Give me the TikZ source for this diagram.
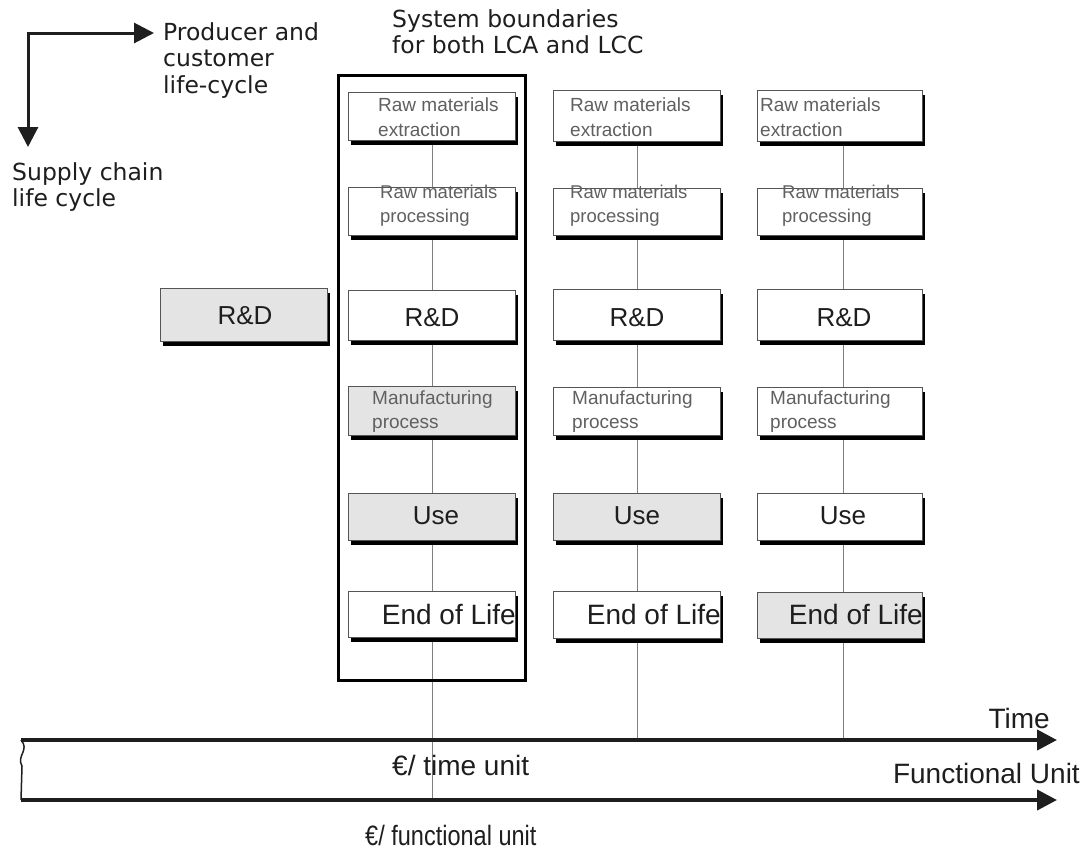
\documentclass[tikz,border=0pt]{standalone}
\usepackage{fontspec}
\setmainfont{Liberation Sans}
\newfontfamily\verd{DejaVu Sans}
\newfontfamily\narrowfont[FakeStretch=0.84]{Liberation Sans}
\usetikzlibrary{arrows.meta}
\definecolor{boxgray}{HTML}{E4E4E4}
\definecolor{smalltxt}{HTML}{606060}
\definecolor{bigtxt}{HTML}{1E1E1E}
\definecolor{edge}{HTML}{555555}
\tikzset{
  lcb/.style={draw=edge, line width=1pt, inner sep=0pt, outer sep=0pt},
  smalllab/.style={anchor=west, inner sep=0pt, align=left, text=smalltxt, font=\fontsize{19}{25}\selectfont},
  proclab/.style={smalllab, font=\fontsize{18.5}{24}\selectfont},
  manlab/.style={smalllab, font=\fontsize{19}{24}\selectfont},
  biglab/.style={inner sep=0pt, text=bigtxt, font=\fontsize{26}{30}\selectfont},
  eollab/.style={biglab, anchor=east, font=\fontsize{28}{30}\selectfont},
  verdlab/.style={anchor=north west, inner sep=0pt, align=left, text=bigtxt, font=\verd\fontsize{23.5}{26.5}\selectfont},
  axislab/.style={inner sep=0pt, text=bigtxt, font=\fontsize{28}{30}\selectfont},
  colline/.style={draw=gray, line width=0.9pt},
  bigarrow/.style={line width=4pt, -{Triangle[length=20pt,width=20pt]}},
  toparrow/.style={line width=3pt, draw=bigtxt, -{Triangle[length=20pt,width=20pt]}}
}
\newcommand\lcbox[6]{%
  \fill[black] (#2+3,#3+5) rectangle (#4+3,#5+5);
  \node[lcb, fill=#6, minimum width={(#4-#2)*1pt}, minimum height={(#5-#3)*1pt}] (#1) at ({(#2+#4)/2},{(#3+#5)/2}) {};
}
\begin{document}
\begin{tikzpicture}[x=1pt,y=-1pt]
\useasboundingbox (0,0) rectangle (1085,852);
\fill[white] (0,0) rectangle (1085,852);

% top-left orientation arrows
\coordinate (corner) at (28,33);
\node[verdlab] (prod) at (163,22) {Producer and\\customer\\life-cycle};
\node[verdlab] (supply) at (12,162) {Supply chain\\life cycle};
\draw[toparrow] ([xshift=-1.5pt]corner) -- ([xshift=-9pt]corner -| prod.west);
\draw[toparrow] (corner) -- ([yshift=15pt]corner |- supply.north);

% system boundary label
\node[verdlab] (sysl) at (392,9) {System boundaries\\for both LCA and LCC};

% column lines
\coordinate (c1top) at (432,116);
\coordinate (c2top) at (637,116);
\coordinate (c3top) at (843,116);
\coordinate (c1bot) at (432,800);
\coordinate (c2bot) at (637,740);
\coordinate (c3bot) at (843,740);
\draw[colline] (c1top) -- (c1bot);
\draw[colline] (c2top) -- (c2bot);
\draw[colline] (c3top) -- (c3bot);

% boundary box
\node[draw=black, line width=3pt, minimum width=187pt, minimum height=605pt, inner sep=0pt] (bound) at (431.5,377.5) {};

% left R&D
\lcbox{rdl}{160}{288}{327}{341}{boxgray}
\node[biglab] (rdlT) at (245,316) {R\&D};

% column 1
\lcbox{a1}{348}{92}{515}{140}{white}
\lcbox{b1}{348}{187}{515}{235}{white}
\lcbox{r1}{348}{290}{515}{340}{white}
\lcbox{m1}{348}{386}{515}{435}{boxgray}
\lcbox{u1}{348}{493}{515}{540}{boxgray}
\lcbox{e1}{348}{591}{515}{637}{white}
% column 2
\lcbox{a2}{553}{90}{720}{141}{white}
\lcbox{b2}{553}{188}{720}{235}{white}
\lcbox{r2}{553}{289}{720}{340}{white}
\lcbox{m2}{553}{387}{720}{435}{white}
\lcbox{u2}{553}{493}{720}{540}{boxgray}
\lcbox{e2}{553}{591}{720}{638}{white}
% column 3
\lcbox{a3}{757}{90}{922}{141}{white}
\lcbox{b3}{757}{188}{922}{235}{white}
\lcbox{r3}{757}{289}{922}{340}{white}
\lcbox{m3}{757}{387}{922}{435}{white}
\lcbox{u3}{757}{493}{922}{540}{white}
\lcbox{e3}{757}{592}{922}{638}{boxgray}

% labels column 1
\node[smalllab] (a1T) at (378,117) {Raw materials\\extraction};
\node[proclab] (b1T) at (380,206) {Raw materials\\processing};
\node[biglab] (r1T) at (432,318) {R\&D};
\node[manlab] (m1T) at (372,412) {Manufacturing\\process};
\node[biglab] (u1T) at (436,516) {Use};
\node[eollab] (e1T) at (516,614) {End of Life};
% labels column 2
\node[smalllab] (a2T) at (570,117) {Raw materials\\extraction};
\node[proclab] (b2T) at (570,206) {Raw materials\\processing};
\node[biglab] (r2T) at (637,318) {R\&D};
\node[manlab] (m2T) at (572,412) {Manufacturing\\process};
\node[biglab] (u2T) at (637,516) {Use};
\node[eollab] (e2T) at (721,614) {End of Life};
% labels column 3
\node[smalllab] (a3T) at (760,117) {Raw materials\\extraction};
\node[proclab] (b3T) at (782,206) {Raw materials\\processing};
\node[biglab] (r3T) at (844,318) {R\&D};
\node[manlab] (m3T) at (770,412) {Manufacturing\\process};
\node[biglab] (u3T) at (843,516) {Use};
\node[eollab] (e3T) at (923,614) {End of Life};

% bottom axes
\coordinate (tl) at (21,740);
\coordinate (tr) at (1057,740);
\coordinate (bl) at (21,800);
\coordinate (br) at (1057,800);
\draw[bigarrow, draw=bigtxt] (tl) -- (tr);
\draw[bigarrow, draw=bigtxt] (bl) -- (br);
\draw[line width=1.5pt, draw=bigtxt] (tl) .. controls (30,750) and (16,756) .. (22,766) -- (bl);

\node[axislab, anchor=east] (timeT) at (1050,718) {Time};
\node[axislab, anchor=east] (fuT) at (1080,773) {Functional Unit};
\node[axislab, anchor=west] (etu) at (392,765) {€/ time unit};
\node[axislab, anchor=west, font=\narrowfont\fontsize{28}{30}\selectfont] (efu) at (365,835) {€/ functional unit};
\end{tikzpicture}
\end{document}
